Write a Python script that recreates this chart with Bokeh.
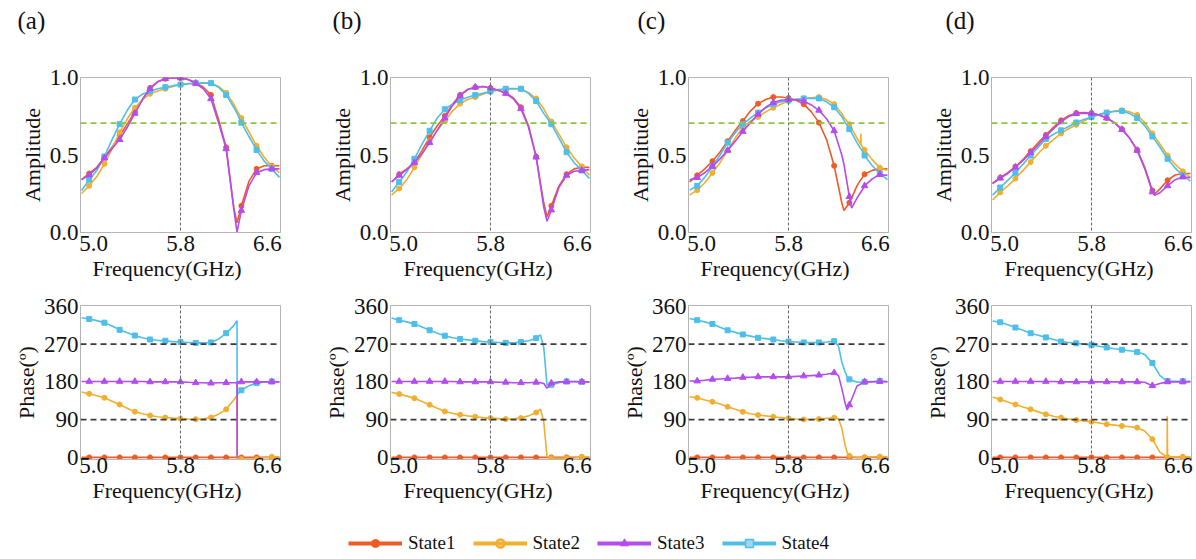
import numpy as np
from bokeh.plotting import figure
from bokeh.models import Range1d, Span, FixedTicker, Legend, LegendItem, NumeralTickFormatter, Title
from bokeh.layouts import column, row
from bokeh.embed import file_html
from bokeh.resources import INLINE

# ---------------- data ----------------
panel_labels = ["(a)", "(b)", "(c)", "(d)"]
state_names = ["State1", "State2", "State3", "State4"]
mark_freq = [4.96, 5.10, 5.24, 5.38, 5.52, 5.66, 5.80, 5.94, 6.08, 6.22, 6.36, 6.50, 6.64]
freq_ticks = [5.0, 5.8, 6.6]
amp_ticks = [0.0, 0.5, 1.0]
phase_ticks = [0, 90, 180, 270, 360]
ref_freq = 5.8
ref_amp = 0.707
ref_phase = [90, 270]

# amplitude (a)
amp_a_f = [4.89, 4.96, 5.03, 5.10, 5.17, 5.24, 5.31, 5.38, 5.45, 5.52, 5.59, 5.66, 5.73, 5.80, 5.87, 5.94, 6.01, 6.08, 6.15, 6.22, 6.29, 6.32, 6.36, 6.43, 6.50, 6.57, 6.64, 6.71]
amp_a_s1 = [0.34, 0.38, 0.42, 0.485, 0.55, 0.625, 0.70, 0.78, 0.86, 0.935, 0.975, 0.995, 1.0, 1.0, 0.99, 0.97, 0.94, 0.89, 0.73, 0.55, 0.16, 0.06, 0.17, 0.33, 0.41, 0.43, 0.43, 0.43]
amp_a_s2 = [0.25, 0.30, 0.36, 0.443, 0.54, 0.647, 0.735, 0.807, 0.86, 0.897, 0.915, 0.93, 0.945, 0.957, 0.963, 0.966, 0.968, 0.968, 0.945, 0.904, 0.83, 0.79, 0.74, 0.65, 0.56, 0.485, 0.426, 0.385]
amp_a_s3 = [0.34, 0.37, 0.415, 0.48, 0.54, 0.60, 0.68, 0.77, 0.86, 0.93, 0.975, 0.995, 1.0, 1.0, 0.99, 0.965, 0.93, 0.865, 0.71, 0.54, 0.15, 0.0, 0.14, 0.30, 0.385, 0.405, 0.41, 0.41]
amp_a_s4 = [0.27, 0.34, 0.40, 0.49, 0.60, 0.70, 0.79, 0.86, 0.895, 0.914, 0.93, 0.94, 0.95, 0.957, 0.962, 0.966, 0.967, 0.966, 0.94, 0.89, 0.81, 0.77, 0.71, 0.62, 0.533, 0.46, 0.41, 0.355]

# amplitude (b)
amp_b_f = [4.89, 4.96, 5.03, 5.10, 5.17, 5.24, 5.31, 5.38, 5.45, 5.52, 5.59, 5.66, 5.73, 5.80, 5.87, 5.94, 6.01, 6.08, 6.15, 6.22, 6.29, 6.32, 6.36, 6.43, 6.50, 6.57, 6.64, 6.71]
amp_b_s1 = [0.325, 0.375, 0.41, 0.45, 0.53, 0.615, 0.69, 0.754, 0.83, 0.89, 0.925, 0.94, 0.945, 0.935, 0.92, 0.904, 0.87, 0.81, 0.69, 0.49, 0.19, 0.10, 0.17, 0.30, 0.375, 0.41, 0.42, 0.42]
amp_b_s2 = [0.24, 0.283, 0.34, 0.42, 0.505, 0.59, 0.66, 0.72, 0.785, 0.833, 0.86, 0.876, 0.895, 0.91, 0.92, 0.925, 0.93, 0.93, 0.905, 0.867, 0.80, 0.76, 0.717, 0.635, 0.55, 0.48, 0.426, 0.368]
amp_b_s3 = [0.325, 0.368, 0.405, 0.45, 0.51, 0.58, 0.66, 0.74, 0.82, 0.885, 0.925, 0.94, 0.945, 0.935, 0.92, 0.90, 0.865, 0.80, 0.68, 0.486, 0.16, 0.07, 0.143, 0.29, 0.368, 0.395, 0.40, 0.405]
amp_b_s4 = [0.26, 0.325, 0.39, 0.475, 0.57, 0.657, 0.74, 0.797, 0.83, 0.856, 0.875, 0.889, 0.90, 0.914, 0.925, 0.93, 0.932, 0.93, 0.90, 0.85, 0.77, 0.74, 0.70, 0.61, 0.518, 0.45, 0.40, 0.347]

# amplitude (c)
amp_c_f = [4.89, 4.96, 5.03, 5.10, 5.17, 5.24, 5.31, 5.38, 5.45, 5.52, 5.59, 5.66, 5.73, 5.80, 5.87, 5.94, 6.01, 6.08, 6.15, 6.22, 6.29, 6.31, 6.36, 6.38, 6.43, 6.465, 6.466, 6.467, 6.50, 6.57, 6.64, 6.71]
amp_c_s1 = [0.325, 0.368, 0.41, 0.46, 0.52, 0.59, 0.66, 0.72, 0.785, 0.833, 0.86, 0.876, 0.876, 0.87, 0.855, 0.83, 0.78, 0.71, 0.60, 0.43, 0.19, 0.14, 0.19, 0.22, 0.30, 0.34, 0.34, 0.34, 0.375, 0.40, 0.41, 0.41]
amp_c_s2 = [0.24, 0.272, 0.32, 0.383, 0.45, 0.53, 0.61, 0.68, 0.72, 0.747, 0.78, 0.807, 0.83, 0.85, 0.86, 0.867, 0.872, 0.876, 0.86, 0.83, 0.77, 0.745, 0.70, 0.675, 0.61, 0.568, 0.64, 0.566, 0.533, 0.47, 0.418, 0.40]
amp_c_s3 = [0.34, 0.353, 0.385, 0.426, 0.475, 0.53, 0.59, 0.653, 0.71, 0.764, 0.81, 0.84, 0.855, 0.86, 0.858, 0.85, 0.825, 0.79, 0.735, 0.657, 0.50, 0.44, 0.23, 0.155, 0.22, 0.26, 0.26, 0.26, 0.30, 0.345, 0.373, 0.368]
amp_c_s4 = [0.272, 0.30, 0.355, 0.426, 0.50, 0.58, 0.645, 0.70, 0.74, 0.775, 0.805, 0.83, 0.845, 0.855, 0.862, 0.867, 0.868, 0.867, 0.845, 0.81, 0.75, 0.725, 0.668, 0.645, 0.58, 0.54, 0.54, 0.54, 0.497, 0.43, 0.38, 0.34]

# amplitude (d)
amp_d_f = [4.89, 4.96, 5.03, 5.10, 5.17, 5.24, 5.31, 5.38, 5.45, 5.52, 5.59, 5.66, 5.73, 5.80, 5.87, 5.94, 6.01, 6.08, 6.15, 6.22, 6.29, 6.36, 6.38, 6.43, 6.50, 6.57, 6.64, 6.71]
amp_d_s1 = [0.315, 0.353, 0.385, 0.425, 0.47, 0.525, 0.58, 0.63, 0.68, 0.725, 0.755, 0.772, 0.775, 0.772, 0.76, 0.74, 0.71, 0.668, 0.61, 0.533, 0.42, 0.27, 0.245, 0.28, 0.336, 0.37, 0.38, 0.38]
amp_d_s2 = [0.208, 0.257, 0.30, 0.347, 0.40, 0.454, 0.51, 0.56, 0.60, 0.64, 0.67, 0.696, 0.72, 0.747, 0.762, 0.775, 0.785, 0.79, 0.78, 0.76, 0.71, 0.64, 0.62, 0.57, 0.497, 0.44, 0.394, 0.353]
amp_d_s3 = [0.315, 0.35, 0.38, 0.42, 0.465, 0.515, 0.565, 0.62, 0.67, 0.715, 0.75, 0.768, 0.772, 0.77, 0.76, 0.74, 0.71, 0.665, 0.61, 0.53, 0.41, 0.26, 0.238, 0.255, 0.30, 0.34, 0.357, 0.353]
amp_d_s4 = [0.24, 0.289, 0.335, 0.385, 0.44, 0.497, 0.55, 0.604, 0.635, 0.66, 0.685, 0.711, 0.73, 0.747, 0.762, 0.775, 0.782, 0.786, 0.77, 0.74, 0.69, 0.62, 0.60, 0.55, 0.475, 0.415, 0.368, 0.33]

# phase (a)
ph_a_f = [4.89, 4.96, 5.03, 5.10, 5.17, 5.24, 5.31, 5.38, 5.45, 5.52, 5.59, 5.66, 5.73, 5.80, 5.87, 5.94, 6.01, 6.08, 6.15, 6.22, 6.29, 6.32, 6.321, 6.322, 6.36, 6.43, 6.50, 6.57, 6.64, 6.71]
ph_a_s1 = [0, 0, 0, 0, 0, 0, 0, 0, 0, 0, 0, 0, 0, 0, 0, 0, 0, 0, 0, 0, 0, 0, 0, 0, 0, 0, 0, 0, 0, 0]
ph_a_s2 = [156, 151.6, 147, 142, 134, 126, 117, 109, 104, 100, 97, 95, 93.5, 92.4, 91.5, 91, 92, 95, 103, 114.5, 137, 148, -3, -3, -4, -4, -4, -1, 1.5, 1]
ph_a_s3 = [181, 181, 181, 181, 181, 181, 181, 181, 181, 180, 180, 180, 180, 180, 179, 178, 178, 177, 178, 178, 178, 178, 0, 180, 180, 180, 180, 180, 180, 180]
ph_a_s4 = [333, 330, 326, 321, 313, 304, 297, 290.5, 285, 281, 279, 278, 276, 275, 274, 273, 273, 274, 282, 296, 314, 326, 150, 150, 160, 171, 177, 180, 181, 180]

# phase (b)
ph_b_f = [4.89, 4.96, 5.03, 5.10, 5.17, 5.24, 5.31, 5.38, 5.45, 5.52, 5.59, 5.66, 5.73, 5.80, 5.87, 5.94, 6.01, 6.08, 6.15, 6.22, 6.26, 6.29, 6.32, 6.36, 6.43, 6.50, 6.57, 6.64, 6.71]
ph_b_s1 = [0, 0, 0, 0, 0, 0, 0, 0, 0, 0, 0, 0, 0, 0, 0, 0, 0, 0, 0, 0, 0, 0, 0, 0, 0, 0, 0, 0, 0]
ph_b_s2 = [155, 151, 146, 141, 133, 125.5, 117, 109.6, 105, 101.7, 99, 97, 95, 93.7, 92.5, 91.3, 92, 93.7, 99, 107, 115, 85, 2, -2, -2, -2, -1.6, 1.6, 1]
ph_b_s3 = [181, 181, 181, 181, 181, 181, 181, 181, 181, 180, 180, 180, 180, 180, 179, 179, 178, 178, 178, 179, 178, 176, 165, 177, 180, 180, 181, 180, 180]
ph_b_s4 = [332, 327, 323, 318, 311, 303, 296, 290, 285, 282, 280, 278, 276, 275, 274, 273, 273, 275, 278, 284, 292, 262, 172, 173, 178, 181, 181, 180, 180]

# phase (c)
ph_c_f = [4.89, 4.96, 5.03, 5.10, 5.17, 5.24, 5.31, 5.38, 5.45, 5.52, 5.59, 5.66, 5.73, 5.80, 5.87, 5.94, 6.01, 6.08, 6.15, 6.22, 6.26, 6.29, 6.32, 6.34, 6.36, 6.43, 6.50, 6.57, 6.64, 6.71]
ph_c_s1 = [0, 0, 0, 0, 0, 0, 0, 0, 0, 0, 0, 0, 0, 0, 0, 0, 0, 0, 0, 0, 0, 0, 0, 0, 0, 0, 0, 0, 0, 0]
ph_c_s2 = [144.6, 142, 137, 132.6, 127, 120.7, 115, 108.8, 104, 101, 99, 97, 95, 93, 91.5, 90.5, 90.5, 91.3, 93, 94.5, 92, 70, 30, 11, 4, -1, 0, 1, 2, 1]
ph_c_s3 = [182, 182, 184, 186, 187, 188, 189, 190.6, 191, 192, 192, 192, 192, 192, 193, 194, 195, 196, 198, 201.7, 195, 165, 130, 113, 125, 170, 180, 180, 181, 180]
ph_c_s4 = [331, 327, 323, 318, 310, 303, 298, 293, 289, 285, 283, 281, 278, 276, 275, 274, 274, 274, 275, 277, 265, 228, 204, 192, 186, 179, 180, 181, 182, 181]

# phase (d)
ph_d_f = [4.89, 4.96, 5.03, 5.10, 5.17, 5.24, 5.31, 5.38, 5.45, 5.52, 5.59, 5.66, 5.73, 5.80, 5.87, 5.94, 6.01, 6.08, 6.15, 6.22, 6.29, 6.36, 6.43, 6.496, 6.497, 6.50, 6.57, 6.64, 6.71]
ph_d_s1 = [0, 0, 0, 0, 0, 0, 0, 0, 0, 0, 0, 0, 0, 0, 0, 0, 0, 0, 0, 0, 0, 0, 0, 0, 0, 0, 0, 0, 0]
ph_d_s2 = [143.7, 138, 132, 126, 120, 114.5, 108.5, 102.6, 98, 94.7, 91.5, 89, 87, 85, 82, 79, 77, 75, 73, 71, 63, 43.4, 12, 1, 98, 0, 1, 1.6, 1]
ph_d_s3 = [181, 181, 181, 181, 181, 181, 181, 181, 181, 180, 180, 180, 180, 180, 180, 180, 180, 180, 180, 180, 179, 171, 176, 180, 180, 180, 180, 180, 180]
ph_d_s4 = [325, 322, 316, 309.5, 303, 296, 291, 286, 281, 276, 274, 272, 270, 268, 265, 262, 259, 256.6, 254, 251, 245, 225, 195, 182, 182, 182, 181.6, 181.6, 181.6]

amp_panels = [
    (amp_a_f, [amp_a_s1, amp_a_s2, amp_a_s3, amp_a_s4]),
    (amp_b_f, [amp_b_s1, amp_b_s2, amp_b_s3, amp_b_s4]),
    (amp_c_f, [amp_c_s1, amp_c_s2, amp_c_s3, amp_c_s4]),
    (amp_d_f, [amp_d_s1, amp_d_s2, amp_d_s3, amp_d_s4]),
]
ph_panels = [
    (ph_a_f, [ph_a_s1, ph_a_s2, ph_a_s3, ph_a_s4]),
    (ph_b_f, [ph_b_s1, ph_b_s2, ph_b_s3, ph_b_s4]),
    (ph_c_f, [ph_c_s1, ph_c_s2, ph_c_s3, ph_c_s4]),
    (ph_d_f, [ph_d_s1, ph_d_s2, ph_d_s3, ph_d_s4]),
]

# ---------------- style ----------------
FONT = "Liberation Serif"
COLORS = ["#f05a24", "#f2ae2e", "#b44cf0", "#4dbfea"]
MARKERS = ["circle", "circle", "triangle", "square"]
MSIZE = [5, 5, 6.5, 5]
LW = [1.6, 1.6, 1.6, 1.6]
DRAW_ORDER = [0, 1, 3, 2]
FRAME_GRAY = "#b4b4b4"
TXT = "#111111"

right_borders = [30, 18, 23, 5]
panel_label_dx = [-63, -58, -51, -46]
xlabel_offsets = [12, 13, 12, 13]


def base_fig(k, top, bottom, fh, yr):
    p = figure(frame_width=200, frame_height=fh, x_range=Range1d(4.88, 6.72), y_range=yr,
               min_border_left=80, min_border_right=right_borders[k], min_border_top=top,
               min_border_bottom=bottom, output_backend="svg", toolbar_location=None)
    p.grid.visible = False
    p.outline_line_color = FRAME_GRAY
    p.outline_line_width = 1
    p.background_fill_color = "white"
    p.border_fill_color = "white"
    for ax in p.axis:
        ax.axis_line_color = FRAME_GRAY
        ax.major_tick_in = 0
        ax.major_tick_out = 0
        ax.minor_tick_in = 0
        ax.minor_tick_out = 0
        ax.major_label_text_font = FONT
        ax.major_label_text_font_size = "23px"
        ax.major_label_text_color = TXT
        ax.axis_label_text_font = FONT
        ax.axis_label_text_font_size = "22px"
        ax.axis_label_text_font_style = "normal"
        ax.axis_label_text_color = TXT
    p.xaxis.ticker = FixedTicker(ticks=freq_ticks)
    p.xaxis.formatter = NumeralTickFormatter(format="0.0")
    p.add_layout(Title(text="Frequency(GHz)", align="left", offset=xlabel_offsets[k],
                       standoff=0, text_font=FONT, text_font_size="22px",
                       text_font_style="normal", text_color=TXT), "below")
    p.add_layout(Span(location=ref_freq, dimension="height", line_color="#666666",
                      line_dash="3 2", line_width=1))
    return p


def draw_series(p, f, series):
    fa = np.asarray(f, dtype=float)
    mask = np.zeros(len(fa), dtype=bool)
    for m in mark_freq:
        mask |= np.isclose(fa, m, atol=1e-6)
    for i in DRAW_ORDER:
        ya = np.asarray(series[i], dtype=float)
        p.line(fa, ya, line_color=COLORS[i], line_width=LW[i])
        p.scatter(fa[mask], ya[mask], marker=MARKERS[i], size=MSIZE[i],
                  fill_color=COLORS[i], line_color=COLORS[i])


amp_figs = []
ph_figs = []
for k in range(4):
    pa = base_fig(k, 77, 55, 155, Range1d(-0.003, 1.003))
    pa.yaxis.ticker = FixedTicker(ticks=amp_ticks)
    pa.yaxis.formatter = NumeralTickFormatter(format="0.0")
    pa.yaxis.axis_label = "Amplitude"
    pa.yaxis.major_label_standoff = 2
    pa.yaxis.axis_label_standoff = 2
    pa.xaxis.major_label_standoff = 3
    pa.add_layout(Span(location=ref_amp, dimension="width", line_color="#8cc63f",
                       line_dash="6 4", line_width=1.6))
    f, series = amp_panels[k]
    draw_series(pa, f, series)
    # spacer between frame and the panel label, then the panel label itself
    pa.add_layout(Title(text=" ", text_font_size="1px", standoff=41), "above")
    pa.add_layout(Title(text=panel_labels[k], align="left", offset=panel_label_dx[k],
                        standoff=0, text_font=FONT, text_font_size="25px",
                        text_font_style="normal", text_color=TXT), "above")
    amp_figs.append(pa)

    pp = base_fig(k, 18, 50, 154, Range1d(-5, 362))
    pp.yaxis.ticker = FixedTicker(ticks=phase_ticks)
    pp.yaxis.axis_label = "Phase(º)"
    pp.yaxis.major_label_standoff = 2
    pp.yaxis.axis_label_standoff = 2
    pp.xaxis.major_label_standoff = -2
    for loc in ref_phase:
        pp.add_layout(Span(location=loc, dimension="width", line_color="#3c3c3c",
                           line_dash="6 4", line_width=1.6))
    f, series = ph_panels[k]
    draw_series(pp, f, series)
    ph_figs.append(pp)

# legend strip (renderers hold no visible points; they only carry the legend styling)
lg = figure(width=1196, height=50, x_axis_type=None, y_axis_type=None,
            x_range=Range1d(0, 1), y_range=Range1d(0, 1), min_border=0,
            output_backend="svg", toolbar_location=None)
lg.grid.visible = False
lg.outline_line_color = None
items = []
leg_marker_size = [11, 12, 15, 12]
nan_xy = dict(x=[np.nan], y=[np.nan])
for i in range(4):
    rl = lg.line(line_color=COLORS[i], line_width=4, **nan_xy)
    if i == 1:
        rm = lg.scatter(marker="circle", size=leg_marker_size[i], fill_alpha=0,
                        line_color=COLORS[i], line_width=2.5, **nan_xy)
    elif i == 3:
        rm = lg.scatter(marker="square", size=leg_marker_size[i], fill_color="#9fd6f0",
                        line_color=COLORS[i], line_width=1.5, **nan_xy)
    else:
        rm = lg.scatter(marker=MARKERS[i], size=leg_marker_size[i],
                        fill_color=COLORS[i], line_color=COLORS[i], **nan_xy)
    items.append(LegendItem(label=state_names[i], renderers=[rl, rm]))
legend = Legend(items=items, orientation="horizontal", location=(348, 5),
                glyph_width=54, glyph_height=20, label_text_font=FONT,
                label_text_font_size="19px", label_text_color=TXT,
                label_standoff=6, spacing=17, padding=0, margin=0,
                border_line_color=None, background_fill_alpha=0)
lg.add_layout(legend)

layout = column(row(*amp_figs), row(*ph_figs), lg)
open("out.html", "w").write(file_html(layout, INLINE))
